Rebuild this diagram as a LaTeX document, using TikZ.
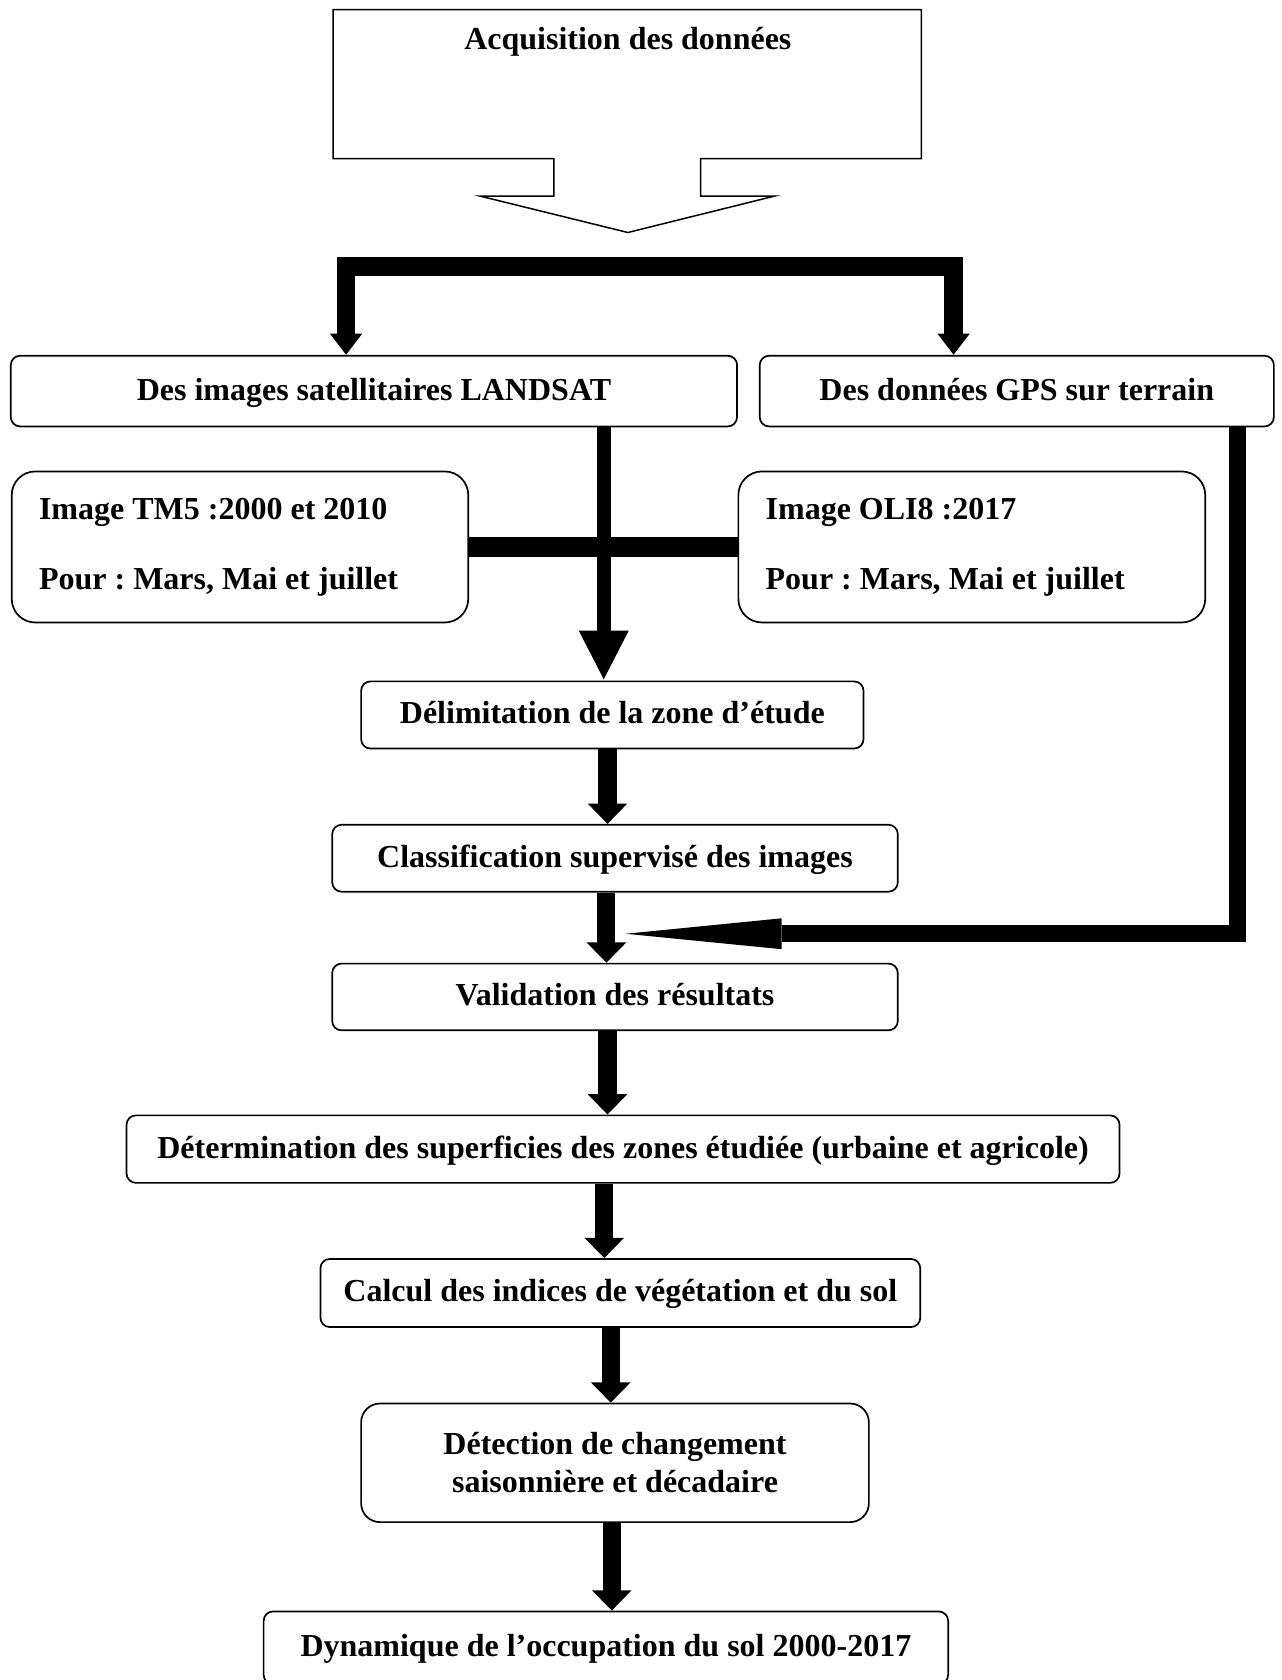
\documentclass[tikz,border=0pt]{standalone}
\usepackage{fontspec}
\setmainfont{Liberation Serif}
\usetikzlibrary{arrows.meta}
\frenchspacing

\begin{document}
\begin{tikzpicture}[x=0.02cm,y=-0.02cm,
        box style/.style={draw,line width=0.9pt,rounded corners=5pt,inner sep=0pt,align=center,font=\fontsize{17}{20.2}\selectfont\bfseries},
        line style/.style={box style,text height=9.5pt,text depth=0pt},
        list style/.style={box style,rounded corners=12.5pt,align=flush left,inner xsep=14.5pt},
        arrow style/.style={line width=9.6pt,-{Triangle[width=20.4pt,length=10.8pt]}}]
        \useasboundingbox[fill=white] (0,0) rectangle (1196,1568);
        \draw[line width=0.8pt] (311,9) -- (860,9) -- (860,148) -- (654,148) -- (654,183) -- (723,183) -- (586,217) -- (448,183) -- (517,183) -- (517,148) -- (311,148) -- cycle;
        \node[line style,draw=none] (acq) at (586,38) {Acquisition des données};
        \node[line style,minimum width=13.56cm,minimum height=1.32cm] (landsat) at (349,365) {Des images satellitaires LANDSAT};
        \node[line style,minimum width=9.6cm,minimum height=1.32cm] (gps) at (949,365) {Des données GPS sur terrain};
        \node[list style,text width=213.5pt,minimum height=2.82cm] (tm5) at (224,510.5) {Image TM5 :2000 et 2010\\[17.2pt]Pour : Mars, Mai et juillet};
        \node[list style,text width=219pt,minimum height=2.82cm] (oli8) at (907,510.5) {Image OLI8 :2017\\[17.2pt]Pour : Mars, Mai et juillet};
        \node[line style,minimum width=9.38cm,minimum height=1.254cm] (delim) at (571.5,667.3) {Délimitation de la zone d’étude};
        \node[line style,minimum width=10.56cm,minimum height=1.25cm] (classif) at (574,801) {Classification supervisé des images};
        \node[line style,minimum width=10.56cm,minimum height=1.246cm] (valid) at (574,930.5) {Validation des résultats};
        \node[line style,minimum width=18.54cm,minimum height=1.26cm] (determ) at (581.5,1072.5) {Détermination des superficies des zones étudiée (urbaine et agricole)};
        \node[line style,minimum width=11.2cm,minimum height=1.272cm] (calcul) at (579,1206.8) {Calcul des indices de végétation et du sol};
        \node[box style,rounded corners=10pt,minimum width=9.48cm,minimum height=2.214cm] (detect) at (574,1365.3) {Détection de changement\\saisonnière et décadaire};
        \node[line style,minimum width=12.78cm,minimum height=1.36cm] (dynam) at (565.5,1538) {Dynamique de l’occupation du sol 2000-2017};
        \draw[line width=10pt,line join=miter,{Triangle[width=16.4pt,length=11.3pt]}-{Triangle[width=16.4pt,length=11.3pt]}] (landsat.north -| 323,0) -- (323,248.5) -- (890,248.5) -- (gps.north -| 890,0);
        \draw[line width=10.2pt] (tm5.east) -- (oli8.west);
        \draw[line width=7.7pt,-{Triangle[width=24.4pt,length=26.5pt]}] (landsat.south -| 563.5,0) -- (delim.north -| 563.5,0);
        \coordinate (gpsend) at (584,871.5);
        \draw[line width=9pt,line join=miter,-{Triangle[width=16.4pt,length=82.8pt,line width=0pt]}] (gps.south -| 1155,0) |- (gpsend);
        \draw[arrow style] (delim.south -| 567,0) -- (classif.north -| 567,0);
        \draw[arrow style] (classif.south -| 566,0) -- (valid.north -| 566,0);
        \draw[arrow style] (valid.south -| 567,0) -- (determ.north -| 567,0);
        \draw[arrow style] (determ.south -| 564,0) -- (calcul.north -| 564,0);
        \draw[arrow style] (calcul.south -| 570,0) -- (detect.north -| 570,0);
        \draw[arrow style] (detect.south -| 571,0) -- (dynam.north -| 571,0);
\end{tikzpicture}
\end{document}
